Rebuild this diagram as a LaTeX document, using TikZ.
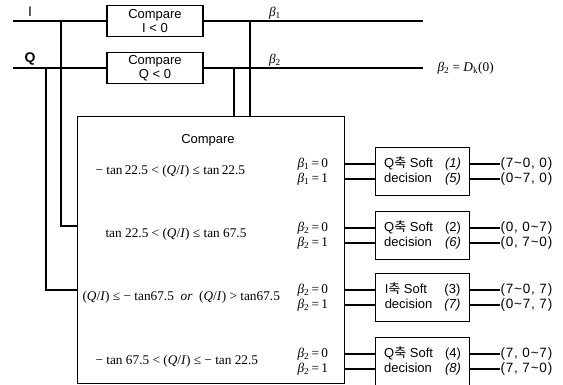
\documentclass[tikz,border=0pt]{standalone}
\usepackage{fontspec}
\setmainfont{Liberation Sans}
\newfontfamily\tms{Liberation Serif}
\newfontfamily\kr{Noto Sans CJK KR}
\newfontfamily\wide[LetterSpace=6]{Liberation Sans}
\usetikzlibrary{calc}

\newcommand{\bet}[1]{{\tms\itshape β}\textsubscript{#1}}
\newcommand{\wv}{\textasciitilde}

\begin{document}
\begin{tikzpicture}[x=1pt, y=-1pt, line width=1.1pt,
    cmpbox/.style={draw, minimum width=96pt, minimum height=31pt, inner sep=0pt, align=center, font=\fontsize{13}{13.5}\selectfont},
    softbox/.style={draw, anchor=north west, minimum width=94pt, minimum height=48pt, inner sep=0pt, font=\fontsize{13}{15}\selectfont},
    cond/.style={anchor=west, inner sep=0pt, font=\tms\fontsize{13.3}{14}\selectfont},
    blab/.style={anchor=west, inner sep=0pt, font=\tms\fontsize{13.3}{14}\selectfont},
    outlab/.style={anchor=west, inner sep=0pt, font=\wide\fontsize{13.5}{14}\selectfont}]

    \useasboundingbox (0,0) rectangle (563,384);

    % I and Q inputs
    \node[font=\fontsize{14}{14}\selectfont] (labI) at (30,12) {I};
    \node[font=\fontsize{14}{14}\selectfont\bfseries] (labQ) at (30,59) {Q};
    \node[cmpbox] (cmpI) at (155,21) {Compare\\I < 0};
    \node[cmpbox] (cmpQ) at (155,68) {Compare\\Q < 0};
    \coordinate (inI) at (13,21);
    \coordinate (inQ) at (13,68);
    \coordinate (outI) at (423,21);
    \coordinate (outQ) at (423,68);
    \draw (inI) -- (cmpI);
    \draw (cmpI) -- (outI);
    \draw (inQ) -- (cmpQ);
    \draw (cmpQ) -- (outQ);
    \node[font=\tms\fontsize{13.3}{14}\selectfont] (b1) at (275,13) {\bet{1}};
    \node[font=\tms\fontsize{13.3}{14}\selectfont] (b2) at (275,60) {\bet{2}};
    \node[blab] (dk) at (437,68) {\bet{2} = {\itshape D}\textsubscript{k}(0)};

    % main compare block
    \node[draw, anchor=north west, minimum width=267pt, minimum height=267pt, inner sep=0pt] (cmpbig) at (77,116) {};
    \node[font=\fontsize{13}{14}\selectfont] (cmptitle) at (208,140) {Compare};

    % branches into the block
    \coordinate (brI) at (61,21);
    \coordinate (brQ) at (46,68);
    \coordinate (enI) at (77,226);
    \coordinate (enQ) at (77,290);
    \draw (brI) |- (enI);
    \draw (brQ) |- (enQ);
    \coordinate (tapI) at (250,21);
    \coordinate (tapQ) at (234,68);
    \draw (tapI) -- (tapI |- cmpbig.north);
    \draw (tapQ) -- (tapQ |- cmpbig.north);

    % conditions
    \node[cond] (cond1) at (95,171.5) {− tan\,22.5 < (\textit{Q}/\textit{I}) ≤ tan\,22.5};
    \node[cond] (cond2) at (105,234.5) {tan 22.5 < (\textit{Q}/\textit{I}) ≤ tan 67.5};
    \node[cond] (cond3) at (82,297.5) {(\textit{Q}/\textit{I}) ≤ − tan67.5 \ \textit{or} \ (\textit{Q}/\textit{I}) > tan67.5};
    \node[cond] (cond4) at (95,361) {− tan 67.5 < (\textit{Q}/\textit{I}) ≤ − tan 22.5};

    % soft decision blocks
    \foreach \n/\top/\ax/\na/\nb/\oa/\ob/\bb in {
      1/147/Q/\textit{(1)}/\textit{(5)}/{(7\wv0, 0)}/{(0\wv7, 0)}/1,
      2/211/Q/(2)/\textit{(6)}/{(0, 0\wv7)}/{(0, 7\wv0)}/2,
      3/273/I/(3)/\textit{(7)}/{(7\wv0, 7)}/{(0\wv7, 7)}/2,
      4/337/Q/(4)/\textit{(8)}/{(7, 0\wv7)}/{(7, 7\wv0)}/2} {
      \node[softbox] (soft\n) at (375,\top) {\begin{tabular}{@{}l@{\hspace{12pt}}l@{}}\ax{\kr 축} Soft & \na\\ decision & \nb\end{tabular}};
      \coordinate (wa\n) at (344,\top+17);
      \coordinate (wb\n) at (344,\top+32);
      \node[blab] (bza\n) at (297,\top+17) {\bet{\bb}\,=\,0};
      \node[blab] (bzb\n) at (297,\top+32) {\bet{\bb}\,=\,1};
      \draw (wa\n) -- (wa\n -| soft\n.west);
      \draw (wb\n) -- (wb\n -| soft\n.west);
      \node[outlab] (oa\n) at (500,\top+17) {\oa};
      \node[outlab] (ob\n) at (500,\top+32) {\ob};
      \draw (wa\n -| soft\n.east) -- (oa\n.west);
      \draw (wb\n -| soft\n.east) -- (ob\n.west);
    }

\end{tikzpicture}
\end{document}
